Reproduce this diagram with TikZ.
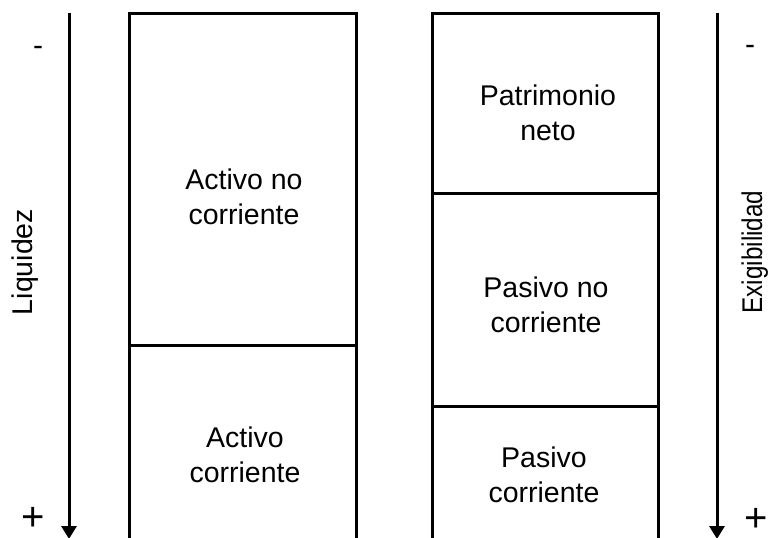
\documentclass[tikz,border=0pt]{standalone}
\usepackage{fontspec}
\setmainfont{Liberation Sans}
\usetikzlibrary{arrows.meta}

\begin{document}
\begin{tikzpicture}[x=1pt, y=-1pt, line width=3pt, ->, >={Triangle[width=15pt, length=13pt]},
    box/.style={draw, minimum width=226.5pt, inner sep=0pt, outer sep=0pt, anchor=north west},
    lbl/.style={align=center, inner sep=0pt, anchor=north, font=\fontsize{28.5}{35}\selectfont},
    side/.style={rotate=90, anchor=base, inner sep=0pt, font=\fontsize{28.5}{35}\selectfont},
    sign/.style={inner sep=0pt, anchor=base}]
    \useasboundingbox (0,0) rectangle (769,538);
    \clip (0,0) rectangle (769,538);

    % activo
    \node [box, minimum height=332pt] (anc) at (129.5,13) {};
    \node [box, minimum height=215pt] (ac) at (anc.south west) {};
    \node [lbl] (anctext) at (244,167) {Activo no\\corriente};
    \node [lbl] (actext) at (245,425) {Activo\\corriente};

    % pasivo
    \node [box, minimum height=180pt] (pn) at (432,13) {};
    \node [box, minimum height=213pt] (pnc) at (pn.south west) {};
    \node [box, minimum height=160pt] (pc) at (pnc.south west) {};
    \node [lbl] (pntext) at (548,83) {Patrimonio\\neto};
    \node [lbl] (pnctext) at (546,275) {Pasivo no\\corriente};
    \node [lbl] (pctext) at (544,445) {Pasivo\\corriente};

    % liquidez
    \coordinate (liqtop) at (69,13);
    \coordinate (liqend) at (69,539);
    \draw (liqtop) -- (liqend);
    \node [side] (liq) at (32,262) {Liquidez};
    \node [sign, font=\fontsize{30}{30}\selectfont] (liqmin) at (38,55) {-};
    \node [sign, font=\fontsize{40}{40}\selectfont] (liqmax) at (33,530) {+};

    % exigibilidad
    \coordinate (exitop) at (717,13);
    \coordinate (exiend) at (717,539);
    \draw (exitop) -- (exiend);
    \node [side] (exi) at (762,252) {\scalebox{0.85}[1]{Exigibilidad}};
    \node [sign, font=\fontsize{30}{30}\selectfont] (eximin) at (750,54) {-};
    \node [sign, font=\fontsize{40}{40}\selectfont] (eximax) at (756,531) {+};
\end{tikzpicture}
\end{document}
